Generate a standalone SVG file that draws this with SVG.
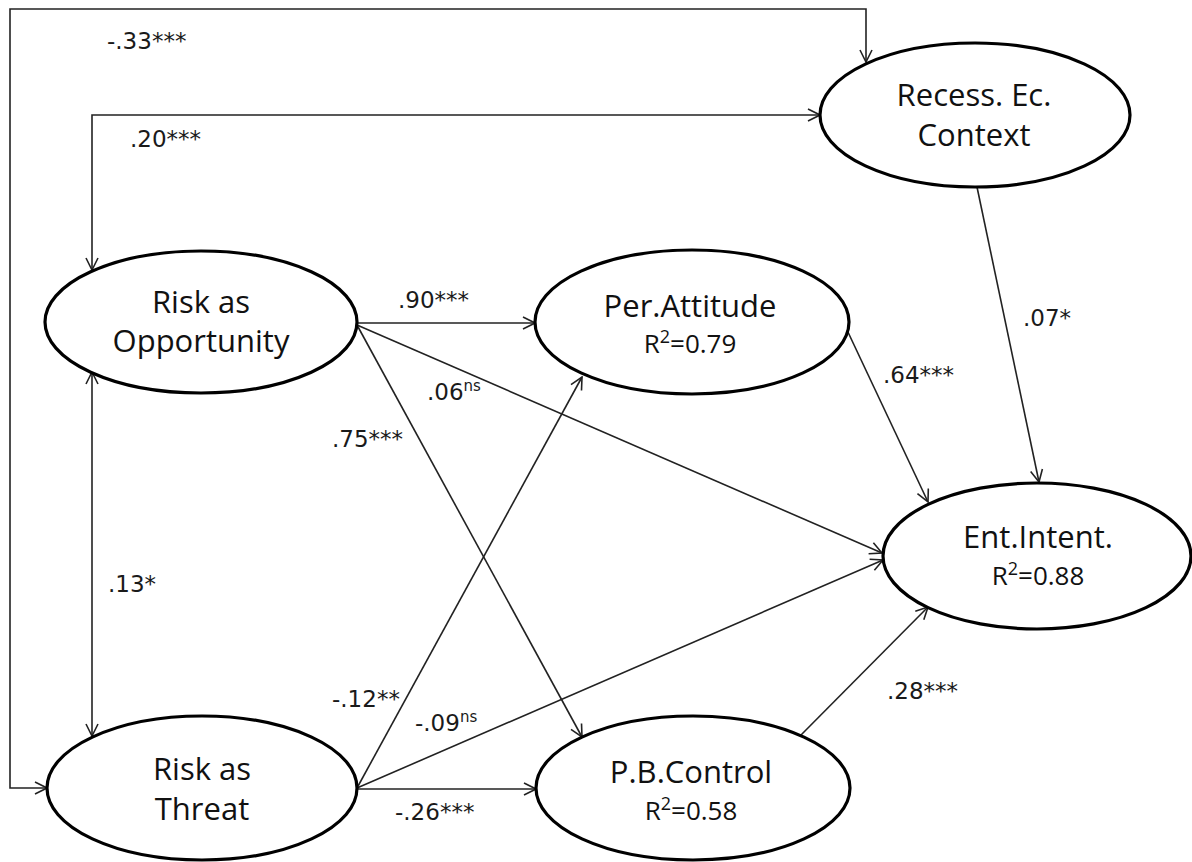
<svg xmlns="http://www.w3.org/2000/svg" width="1192" height="862" viewBox="0 0 1192 862">
  <defs>
    <marker id="arr" viewBox="0 0 14 14" refX="13" refY="7" markerWidth="14" markerHeight="14" markerUnits="userSpaceOnUse" orient="auto-start-reverse">
      <path d="M1,1 L13,7 L1,13" fill="none" stroke="#222" stroke-width="1.6"/>
    </marker>
    <style>
      .node ellipse { fill: #fff; stroke: #000; stroke-width: 3.2; }
      .name { font-family: "Open Sans", "Liberation Sans", sans-serif; font-size: 31px; fill: #111; text-anchor: middle; }
      .r2 { font-family: "Open Sans", "Liberation Sans", sans-serif; font-size: 26px; fill: #111; text-anchor: middle; }
      .sup { font-size: 18px; }
      .edge { fill: none; stroke: #222; stroke-width: 1.6; }
      .lbl { font-family: "DejaVu Sans", "Liberation Sans", sans-serif; font-size: 23px; fill: #1a1a1a; }
      .ns { font-size: 15px; }
    </style>
  </defs>
  <rect width="1192" height="862" fill="#fff"/>

  <g id="connectors">
    <path class="edge" d="M47,788 L10,788 L10,9 L866,9 L866,62" marker-start="url(#arr)" marker-end="url(#arr)"/>
    <path class="edge" d="M92,270 L92,115 L820,115" marker-start="url(#arr)" marker-end="url(#arr)"/>
    <path class="edge" d="M92,372 L92,736" marker-start="url(#arr)" marker-end="url(#arr)"/>
    <path class="edge" d="M357,323 L535,323" marker-end="url(#arr)"/>
    <path class="edge" d="M357,325 L582,737" marker-end="url(#arr)"/>
    <path class="edge" d="M357,325 L882,553" marker-end="url(#arr)"/>
    <path class="edge" d="M357,788 L582,377" marker-end="url(#arr)"/>
    <path class="edge" d="M357,788 L883,560" marker-end="url(#arr)"/>
    <path class="edge" d="M357,789 L536,789" marker-end="url(#arr)"/>
    <path class="edge" d="M847,330 L928,502" marker-end="url(#arr)"/>
    <path class="edge" d="M977,187 L1039,482" marker-end="url(#arr)"/>
    <path class="edge" d="M800,736 L928,607" marker-end="url(#arr)"/>

    <text class="lbl" x="107" y="49">-.33***</text>
    <text class="lbl" x="130" y="147">.20***</text>
    <text class="lbl" x="398" y="308">.90***</text>
    <text class="lbl" x="427" y="400">.06<tspan class="ns" dy="-9">ns</tspan></text>
    <text class="lbl" x="332" y="447">.75***</text>
    <text class="lbl" x="108" y="592">.13*</text>
    <text class="lbl" x="332" y="707">-.12**</text>
    <text class="lbl" x="415" y="731">-.09<tspan class="ns" dy="-9">ns</tspan></text>
    <text class="lbl" x="395" y="820">-.26***</text>
    <text class="lbl" x="883" y="383">.64***</text>
    <text class="lbl" x="1023" y="326">.07*</text>
    <text class="lbl" x="887" y="699">.28***</text>
  </g>

  <g id="recess" class="node">
    <ellipse cx="975" cy="115" rx="155" ry="72"/>
    <text class="name" x="974" y="106">Recess. Ec.</text>
    <text class="name" x="974" y="146">Context</text>
  </g>
  <g id="opportunity" class="node">
    <ellipse cx="201" cy="322" rx="156" ry="71"/>
    <text class="name" x="201" y="313">Risk as</text>
    <text class="name" x="201" y="352">Opportunity</text>
  </g>
  <g id="attitude" class="node">
    <ellipse cx="692" cy="322" rx="157" ry="72"/>
    <text class="name" x="690" y="317">Per.Attitude</text>
    <text class="r2" x="690" y="353">R<tspan class="sup" dy="-10">2</tspan><tspan dy="10">=0.79</tspan></text>
  </g>
  <g id="threat" class="node">
    <ellipse cx="202" cy="788" rx="155" ry="72"/>
    <text class="name" x="202" y="780">Risk as</text>
    <text class="name" x="202" y="820">Threat</text>
  </g>
  <g id="control" class="node">
    <ellipse cx="693" cy="788" rx="157" ry="72"/>
    <text class="name" x="691" y="783">P.B.Control</text>
    <text class="r2" x="691" y="820">R<tspan class="sup" dy="-10">2</tspan><tspan dy="10">=0.58</tspan></text>
  </g>
  <g id="intent" class="node">
    <ellipse cx="1037" cy="556" rx="154" ry="73"/>
    <text class="name" x="1038" y="548">Ent.Intent.</text>
    <text class="r2" x="1038" y="585">R<tspan class="sup" dy="-10">2</tspan><tspan dy="10">=0.88</tspan></text>
  </g>
</svg>
